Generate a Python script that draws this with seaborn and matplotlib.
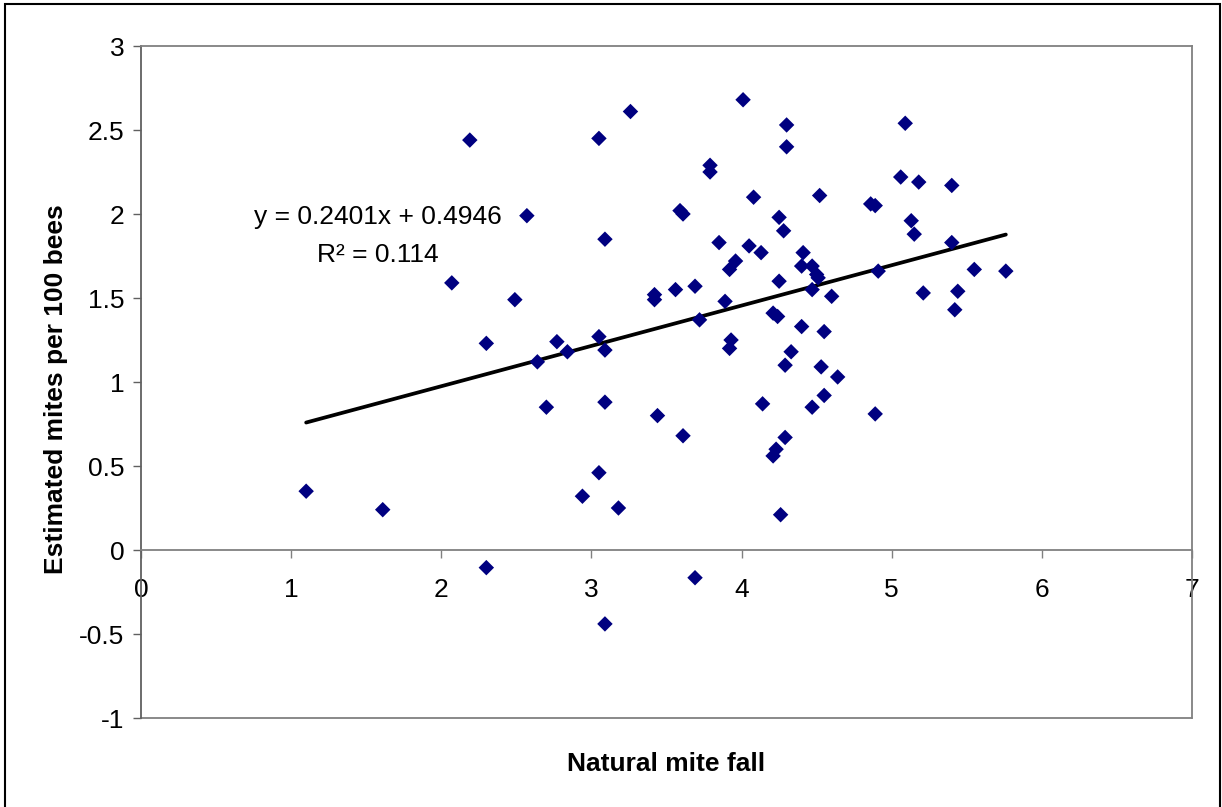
import numpy as np
import pandas as pd
import matplotlib
matplotlib.use("Agg")
import matplotlib.pyplot as plt
import seaborn as sns
from matplotlib.patches import Rectangle

# ---- data ----
mite_fall = [1.10, 1.61, 2.07, 2.19, 2.30, 2.30, 2.49, 2.57, 2.64, 2.70,
             2.77, 2.84, 2.94, 3.05, 3.05, 3.05, 3.09, 3.09, 3.09, 3.09,
             3.18, 3.26, 3.42, 3.42, 3.44, 3.56, 3.59, 3.61, 3.61, 3.69,
             3.69, 3.72, 3.79, 3.79, 3.85, 3.89, 3.92, 3.96, 3.93, 3.92,
             4.01, 4.05, 4.08, 4.13, 4.14, 4.21, 4.24, 4.21, 4.23, 4.25,
             4.25, 4.26, 4.28, 4.29, 4.29, 4.30, 4.30, 4.33, 4.40, 4.41,
             4.40, 4.47, 4.47, 4.47, 4.50, 4.51, 4.52, 4.53, 4.55, 4.55,
             4.60, 4.64, 4.86, 4.89, 4.89, 4.91, 5.06, 5.09, 5.13, 5.15,
             5.18, 5.21, 5.40, 5.40, 5.42, 5.44, 5.55, 5.76]
mites_per_100 = [0.35, 0.24, 1.59, 2.44, 1.23, -0.105, 1.49, 1.99, 1.12, 0.85,
                 1.24, 1.18, 0.32, 2.45, 1.27, 0.46, 1.85, 1.19, 0.88, -0.44,
                 0.25, 2.61, 1.52, 1.49, 0.80, 1.55, 2.02, 2.00, 0.68, 1.57,
                 -0.165, 1.37, 2.29, 2.25, 1.83, 1.48, 1.67, 1.72, 1.25, 1.20,
                 2.68, 1.81, 2.10, 1.77, 0.87, 1.41, 1.39, 0.56, 0.60, 1.98,
                 1.60, 0.21, 1.90, 1.10, 0.67, 2.53, 2.40, 1.18, 1.69, 1.77,
                 1.33, 1.69, 1.55, 0.85, 1.64, 1.62, 2.11, 1.09, 1.30, 0.92,
                 1.51, 1.03, 2.06, 2.05, 0.81, 1.66, 2.22, 2.54, 1.96, 1.88,
                 2.19, 1.53, 2.17, 1.83, 1.43, 1.54, 1.67, 1.66]
slope = 0.2401
intercept = 0.4946
r_squared = 0.114
x_ticks = [0, 1, 2, 3, 4, 5, 6, 7]
y_ticks = [-1, -0.5, 0, 0.5, 1, 1.5, 2, 2.5, 3]
x_label = "Natural mite fall"
y_label = "Estimated mites per 100 bees"

df = pd.DataFrame({"x": mite_fall, "y": mites_per_100})
x_line = [min(mite_fall), max(mite_fall)]
trend = pd.DataFrame({"x": x_line, "y": [slope * v + intercept for v in x_line]})

sns.set_theme(style="white")
plt.rcParams["font.family"] = ["Liberation Sans", "DejaVu Sans"]
plt.rcParams["text.color"] = "black"
plt.rcParams["axes.labelcolor"] = "black"
plt.rcParams["xtick.labelcolor"] = "black"
plt.rcParams["ytick.labelcolor"] = "black"

FS = 19
W, H = 1222, 807
fig = plt.figure(figsize=(W / 100, H / 100), dpi=100)
ax = fig.add_axes([141 / W, 1 - 718 / H, (1192 - 141) / W, (718 - 46) / H])

sns.scatterplot(data=df, x="x", y="y", marker="D", s=62, color="#000080",
                edgecolor="none", linewidth=0, ax=ax, zorder=3)
sns.lineplot(data=trend, x="x", y="y", color="black", linewidth=2.7, ax=ax,
             zorder=2)

ax.set_xlim(0, 7)
ax.set_ylim(-1, 3)
ax.set_xticks(x_ticks)
ax.set_yticks(y_ticks)
ax.set_xticklabels([f"{v:g}" for v in x_ticks])
ax.set_yticklabels([f"{v:g}" for v in y_ticks])

gray = "#808080"
for side in ["top", "right"]:
    ax.spines[side].set_color(gray)
    ax.spines[side].set_linewidth(1.3)
ax.spines["left"].set_color("#606060")
ax.spines["left"].set_linewidth(1.3)
ax.spines["bottom"].set_position(("data", 0))
ax.spines["bottom"].set_color(gray)
ax.spines["bottom"].set_linewidth(1.3)
ax.axhline(-1, color=gray, linewidth=1.3, clip_on=False, zorder=1)

ax.tick_params(axis="x", direction="out", length=6, width=1, color=gray,
               labelcolor="black", pad=14, labelsize=FS, bottom=True)
ax.tick_params(axis="y", direction="out", length=6, width=1, color="#606060",
               labelcolor="black", pad=6, labelsize=FS, left=True)

ax.set_xlabel(x_label, fontsize=FS, fontweight="bold", color="black")
ax.set_ylabel(y_label, fontsize=FS, fontweight="bold", color="black")
ax.xaxis.set_label_coords(0.5, -0.05)
ax.yaxis.set_label_coords(-0.069, 0.49)

ax.text(1.58, 1.98, f"y = {slope:.4f}x + {intercept:.4f}", ha="center",
        va="center", fontsize=FS, color="black")
ax.text(1.58, 1.755, f"R² = {r_squared:g}", ha="center", va="center",
        fontsize=FS, color="black")

fig.patches.append(Rectangle((5 / W, -0.01), (1220 - 5) / W, 1 - 4 / H + 0.01,
                             transform=fig.transFigure, fill=False,
                             edgecolor="black", linewidth=1.5))

fig.savefig("out.png", dpi=100)
